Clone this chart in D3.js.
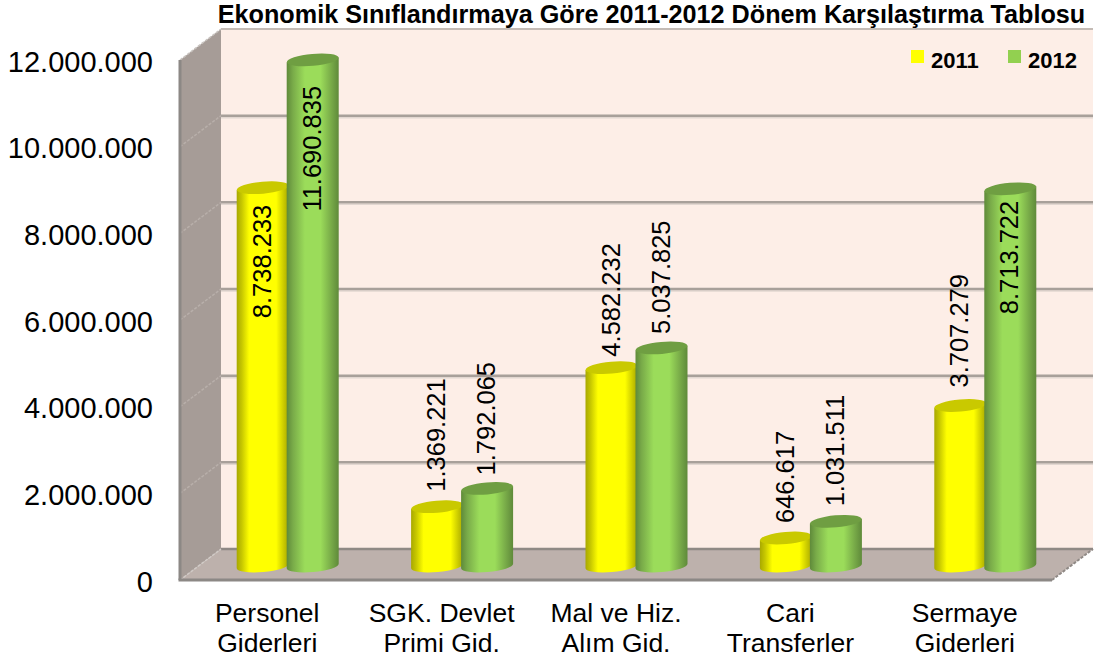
<!DOCTYPE html>
<html><head><meta charset="utf-8">
<script src="https://cdn.jsdelivr.net/npm/d3@7/dist/d3.min.js"></script>
<style>html,body{margin:0;padding:0;background:#fff}svg{display:block}text{font-family:"Liberation Sans",Arial,sans-serif;fill:#000}</style>
</head><body><svg id="c" width="1108" height="661"></svg>
<script>
const titleText = "Ekonomik Sınıflandırmaya Göre 2011-2012 Dönem Karşılaştırma Tablosu";
const categories = ["Personel Giderleri","SGK. Devlet Primi Gid.","Mal ve Hiz. Alım Gid.","Cari Transferler","Sermaye Giderleri"];
const categoryLines = [["Personel","Giderleri"],["SGK. Devlet","Primi Gid."],["Mal ve Hiz.","Alım Gid."],["Cari","Transferler"],["Sermaye","Giderleri"]];
const seriesNames = ["2011","2012"];
const values2011 = [8738233,1369221,4582232,646617,3707279];
const values2012 = [11690835,1792065,5037825,1031511,8713722];
const tickValues = [0,2000000,4000000,6000000,8000000,10000000,12000000];

// layout
const front = {l:180,r:1052,b:580,t:60}, depth = {x:41,y:-31};
const svg = d3.select("#c");
const yFront = d3.scaleLinear().domain([0,12000000]).range([front.b,front.t]);
const yBack = d3.scaleLinear().domain([0,12000000]).range([front.b+depth.y,front.t+depth.y]);
const yMid = d3.scaleLinear().domain([0,12000000]).range([566,46.5]);
const xFront = d3.scaleBand().domain(categories).range([front.l,front.r]);
const xMid = d3.scaleBand().domain(categories).range([front.l+depth.x/2,front.r+depth.x/2]);
const xSeries = d3.scaleBand().domain(seriesNames).range([-50,50]);
const fmt = d3.formatLocale({decimal:",",thousands:".",grouping:[3],currency:["",""]}).format(",d");

const defs = svg.append("defs");
function grad(id,stops){
  const g = defs.append("linearGradient").attr("id",id).attr("x1",0).attr("x2",1).attr("y1",0).attr("y2",0);
  stops.forEach(s=>g.append("stop").attr("offset",s[0]).attr("stop-color",s[1]));
}
grad("g2011",[[0,"#a8a800"],[.1,"#c8c800"],[.24,"#ffff00"],[.76,"#ffff00"],[.92,"#c4c400"],[1,"#a8a800"]]);
grad("g2012",[[0,"#5f8a3a"],[.12,"#79ab49"],[.35,"#9bdc5a"],[.65,"#9bdc5a"],[.88,"#74a546"],[1,"#5f8a3a"]]);
const capColor = {"2011":"#c9c900","2012":"#6f9e42"};
const legendColor = {"2011":"#ffff00","2012":"#92d050"};

// walls
const xb0 = front.l+depth.x, xb1 = front.r+depth.x;
const poly = pts => "M"+pts.map(p=>p.join(",")).join("L")+"Z";
svg.append("rect").attr("x",xb0).attr("y",yBack(12000000)).attr("width",xb1-xb0).attr("height",yBack(0)-yBack(12000000)).attr("fill","#fdeee7");
svg.append("path").attr("d",poly([[front.l,yFront(12000000)],[xb0,yBack(12000000)],[xb0,yBack(0)],[front.l,yFront(0)]])).attr("fill","#a69c97");
svg.append("path").attr("d",poly([[front.l,yFront(0)],[xb0,yBack(0)],[xb1,yBack(0)],[front.r,yFront(0)]])).attr("fill","#bdb1ac");

// gridlines
tickValues.forEach(v=>{
  if(v===0||v===12000000){
    svg.append("line").attr("x1",xb0).attr("x2",xb1).attr("y1",yBack(v)).attr("y2",yBack(v))
      .attr("stroke",v?"#c4bbb5":"#8f8985").attr("stroke-width",v?2:2.5);
  } else {
    svg.append("line").attr("x1",xb0).attr("x2",xb1).attr("y1",yBack(v)+2).attr("y2",yBack(v)+2).attr("stroke","#e2d7d1").attr("stroke-width",1.5);
    svg.append("line").attr("x1",xb0).attr("x2",xb1).attr("y1",yBack(v)).attr("y2",yBack(v)).attr("stroke","#a8a09a").attr("stroke-width",2.5);
    svg.append("line").attr("x1",front.l).attr("x2",xb0).attr("y1",yFront(v)).attr("y2",yBack(v)).attr("stroke","#b8afaa").attr("stroke-width",1.5).attr("stroke-dasharray","3 1.5");
  }
});
svg.append("line").attr("x1",front.l).attr("x2",xb0).attr("y1",yFront(12000000)).attr("y2",yBack(12000000)).attr("stroke","#c8c3bf").attr("stroke-width",1.5).attr("stroke-dasharray","3 1.5");
svg.append("line").attr("x1",front.l).attr("x2",xb0).attr("y1",yFront(0)).attr("y2",yBack(0)).attr("stroke","#d0cac6").attr("stroke-width",1.5).attr("stroke-dasharray","3 1.5");
svg.append("line").attr("x1",front.r).attr("x2",xb1).attr("y1",yFront(0)).attr("y2",yBack(0)).attr("stroke","#8f8985").attr("stroke-width",2).attr("stroke-dasharray","3 1.5");
svg.append("line").attr("x1",front.l).attr("x2",front.l).attr("y1",yFront(12000000)).attr("y2",yFront(0)).attr("stroke","#8c8885").attr("stroke-width",3);
svg.append("line").attr("x1",front.l-1.5).attr("x2",front.r).attr("y1",yFront(0)).attr("y2",yFront(0)).attr("stroke","#8c8885").attr("stroke-width",3);

// cylinders
const rx = 26, ry = 6, tilt = -5, slope = Math.tan(tilt*Math.PI/180)*rx;
function drawSeries(name,vals){
  const g = svg.append("g");
  categories.forEach((c,i)=>{
    const cx = xMid(c)+xMid.bandwidth()/2 + xSeries(name)+xSeries.bandwidth()/2;
    const yt = yMid(vals[i]), yb = yMid(0);
    const left = cx-rx, right = cx+rx;
    g.append("path")
      .attr("d",`M${left},${yt-slope}L${left},${yb-slope}A${rx},${ry} ${tilt} 0 0 ${right},${yb+slope}L${right},${yt+slope}Z`)
      .attr("fill",`url(#g${name})`);
    g.append("ellipse").attr("cx",cx).attr("cy",yt).attr("rx",rx).attr("ry",ry)
      .attr("transform",`rotate(${tilt} ${cx} ${yt})`).attr("fill",capColor[name]);
  });
}
drawSeries("2011",values2011);
drawSeries("2012",values2012);

// data labels: inside the tall bars, above the others
const labelFont = 25.5;
function drawLabels(name,vals,shift){
  categories.forEach((c,i)=>{
    const cx = xMid(c)+xMid.bandwidth()/2 + xSeries(name)+xSeries.bandwidth()/2;
    const yt = yMid(vals[i]);
    const inside = vals[i] > 8000000;
    const y = inside ? yt+shift[i] : yt-shift[i];
    svg.append("text").attr("transform",`translate(${cx+8},${y}) rotate(-90)`)
      .attr("text-anchor",inside?"end":"start").attr("font-size",labelFont).text(fmt(vals[i]));
  });
}
drawLabels("2011",values2011,[17,15,11,15,18]);
drawLabels("2012",values2012,[26,13,14,15,12]);

// axes
const axY = svg.append("g").attr("transform",`translate(${front.l},2)`)
  .call(d3.axisLeft(yFront).tickValues(tickValues).tickFormat(fmt).tickSize(0).tickPadding(27));
axY.select(".domain").remove();
axY.selectAll("text").attr("font-size",29).attr("font-family",'"Liberation Sans",Arial,sans-serif').attr("fill","#000");
const axX = svg.append("g").attr("transform",`translate(0,${front.b})`)
  .call(d3.axisBottom(xFront).tickSize(0));
axX.select(".domain").remove();
axX.selectAll("text").each(function(d,i){
  const t = d3.select(this).text(null).attr("y",null).attr("dy",null).attr("font-size",26.5).attr("font-family",'"Liberation Sans",Arial,sans-serif').attr("fill","#000");
  categoryLines[i].forEach((l,j)=>t.append("tspan").attr("x",0).attr("y",41.5+j*30).text(l));
});

// title and legend
svg.append("text").attr("x",651.5).attr("y",23).attr("text-anchor","middle").attr("font-weight","bold").attr("font-size",25.2).text(titleText);
const legendX = d3.scalePoint().domain(seriesNames).range([911,1008]);
seriesNames.forEach(n=>{
  svg.append("rect").attr("x",legendX(n)).attr("y",50).attr("width",13).attr("height",13).attr("fill",legendColor[n]);
  svg.append("text").attr("x",legendX(n)+20).attr("y",67.5).attr("font-weight","bold").attr("font-size",22).text(n);
});
</script></body></html>
